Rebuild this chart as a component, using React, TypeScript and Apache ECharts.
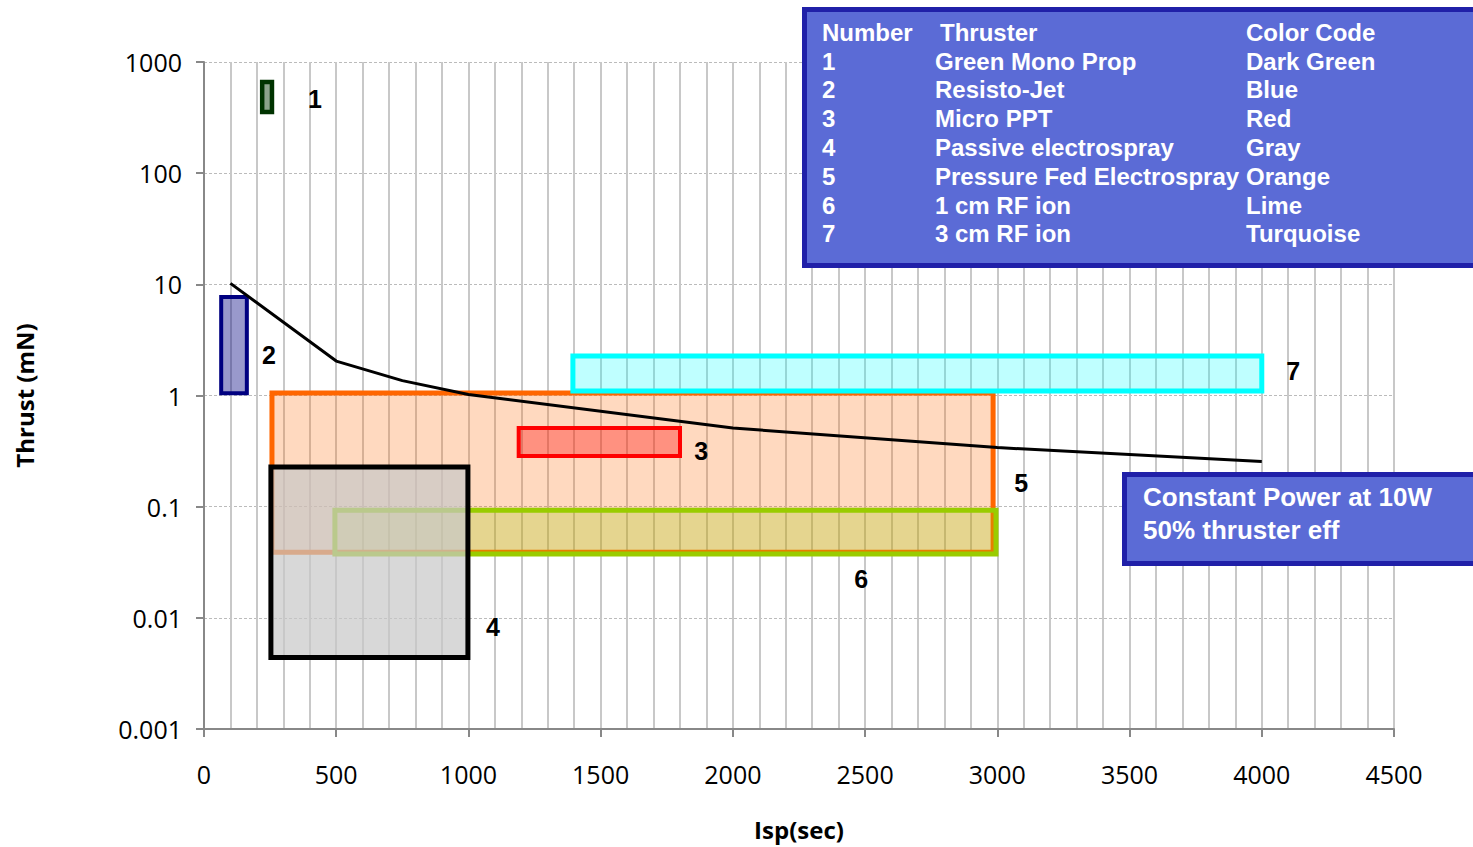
import React, { useEffect, useRef } from "react";
import * as echarts from "echarts";

// Thruster envelopes: Isp range (sec) and thrust range (mN)
const thrusterNumbers = ["1", "2", "3", "4", "5", "6", "7"];
const thrusterNames = [
  "Green Mono Prop",
  "Resisto-Jet",
  "Micro PPT",
  "Passive electrospray",
  "Pressure Fed Electrospray",
  "1 cm RF ion",
  "3 cm RF ion",
];
const colorCodes = ["Dark Green", "Blue", "Red", "Gray", "Orange", "Lime", "Turquoise"];
const ispMin = [220, 65, 1190, 253, 257, 495, 1395];
const ispMax = [257, 162, 1800, 998, 2984, 2995, 4000];
const thrustMin = [355, 1.05, 0.285, 0.0044, 0.039, 0.0375, 1.1];
const thrustMax = [660, 7.7, 0.51, 0.228, 1.055, 0.093, 2.27];

// label anchor points for the numbers (data coordinates)
const labelIsp = [420, 246, 1880, 1093, 3090, 2485, 4119];
const labelThrust = [465, 2.3, 0.32, 0.0083, 0.164, 0.0224, 1.66];

// Constant power 10 W, 50% efficiency line
const powerIsp = [100, 500, 750, 1000, 2000, 3000, 4000];
const powerThrust = [10.2, 2.04, 1.36, 1.02, 0.51, 0.34, 0.255];

const yTickLabels = ["0.001", "0.01", "0.1", "1", "10", "100", "1000"];

const strokeColors = ["#003300", "#000080", "#ff0000", "#000000", "#ff6600", "#99cc00", "#00ffff"];
const fillColors = [
  "rgba(0,51,0,0.45)",
  "rgba(0,0,128,0.4)",
  "rgba(255,0,0,0.33)",
  "rgba(200,200,200,0.7)",
  "rgba(255,102,0,0.25)",
  "rgba(153,204,0,0.25)",
  "rgba(0,255,255,0.25)",
];
const strokeWidths = [4.5, 4, 4, 5, 5, 5, 5];
const drawOrder = [4, 5, 3, 2, 1, 0, 6];

const legendHeader = ["Number", "Thruster", "Color Code"];
const noteLines = ["Constant Power at 10W", "50% thruster eff"];

export default function App() {
  const ref = useRef<HTMLDivElement>(null);

  useEffect(() => {
    if (!ref.current) return;
    const chart = echarts.init(ref.current, undefined, { renderer: "svg" });

    const rectSeries = drawOrder.map((i) => ({
      type: "custom",
      name: thrusterNames[i],
      coordinateSystem: "cartesian2d",
      encode: { x: [0, 1], y: [2, 3] },
      data: [[ispMin[i], ispMax[i], thrustMin[i], thrustMax[i]]],
      z: 3,
      renderItem: (params: any, api: any) => {
        const p0 = api.coord([api.value(0), api.value(3)]);
        const p1 = api.coord([api.value(1), api.value(2)]);
        return {
          type: "rect",
          shape: { x: p0[0], y: p0[1], width: p1[0] - p0[0], height: p1[1] - p0[1] },
          style: { fill: fillColors[i], stroke: strokeColors[i], lineWidth: strokeWidths[i] },
        };
      },
    }));

    const legendFont = "bold 24px 'Liberation Sans', Arial, sans-serif";
    const legendTexts: any[] = [];
    const colX = [822, 940, 1246];
    legendHeader.forEach((t, c) => {
      legendTexts.push({
        type: "text",
        left: colX[c],
        top: 20,
        style: { text: t, font: legendFont, fill: "#ffffff" },
      });
    });
    thrusterNumbers.forEach((n, r) => {
      const y = 49 + r * 28.8;
      legendTexts.push({ type: "text", left: 822, top: y, style: { text: n, font: legendFont, fill: "#fff" } });
      legendTexts.push({ type: "text", left: 935, top: y, style: { text: thrusterNames[r], font: legendFont, fill: "#fff" } });
      legendTexts.push({ type: "text", left: 1246, top: y, style: { text: colorCodes[r], font: legendFont, fill: "#fff" } });
    });

    const noteFont = "bold 26px 'Liberation Sans', Arial, sans-serif";

    chart.setOption({
      animation: false,
      backgroundColor: "#ffffff",
      grid: { left: 204, top: 62, width: 1190, height: 667, containLabel: false },
      xAxis: {
        type: "value",
        min: 0,
        max: 4500,
        interval: 500,
        name: "Isp(sec)",
        nameLocation: "middle",
        nameGap: 88,
        nameTextStyle: { fontFamily: "'Open Sans', sans-serif", fontWeight: "bold", fontSize: 24, color: "#000" },
        axisLine: { lineStyle: { color: "#888888", width: 2 } },
        axisTick: { show: true, length: 8, lineStyle: { color: "#888888", width: 2 } },
        axisLabel: {
          fontFamily: "'Open Sans', sans-serif",
          fontSize: 25,
          color: "#000",
          margin: 32,
          formatter: (v: number) => String(v),
        },
        splitLine: { show: true, lineStyle: { color: "#c8c8c8", width: 2 } },
        minorTick: { show: false, splitNumber: 5 },
        minorSplitLine: { show: true, lineStyle: { color: "#c8c8c8", width: 2 } },
      },
      yAxis: {
        type: "log",
        logBase: 10,
        min: 0.001,
        max: 1000,
        splitNumber: 6,
        name: "Thrust (mN)",
        nameLocation: "middle",
        nameGap: 168,
        nameRotate: 90,
        nameTextStyle: { fontFamily: "'Open Sans', sans-serif", fontWeight: "bold", fontSize: 24, color: "#000" },
        axisLine: { show: true, lineStyle: { color: "#888888", width: 2 } },
        axisTick: { show: true, length: 8, lineStyle: { color: "#888888", width: 2 } },
        axisLabel: {
          fontFamily: "'Open Sans', sans-serif",
          fontSize: 25,
          color: "#000",
          margin: 22,
          formatter: (v: number) => {
            const idx = Math.round(Math.log10(v)) + 3;
            return yTickLabels[idx] ?? String(v);
          },
        },
        splitLine: { show: true, lineStyle: { color: "#bbbbbb", width: 1, type: [3, 2] } },
      },
      series: [
        ...rectSeries,
        {
          type: "line",
          name: "Constant Power",
          data: powerIsp.map((x, k) => [x, powerThrust[k]]),
          symbol: "none",
          lineStyle: { color: "#000", width: 3 },
          z: 5,
        },
        {
          type: "scatter",
          name: "Labels",
          symbolSize: 1,
          z: 6,
          itemStyle: { opacity: 1, color: "rgba(0,0,0,0)" },
          data: labelIsp.map((x, k) => ({ value: [x, labelThrust[k]], name: thrusterNumbers[k] })),
          label: {
            show: true,
            position: "inside",
            formatter: (p: any) => p.name,
            fontFamily: "'Liberation Sans', Arial, sans-serif",
            fontWeight: "bold",
            fontSize: 25,
            color: "#000000",
            opacity: 1,
          },
        },
      ],
      graphic: [
        {
          type: "rect",
          left: 802,
          top: 7,
          shape: { width: 720, height: 256 },
          style: { fill: "#5b6bd6", stroke: "#2020a8", lineWidth: 5 },
          z: 10,
        },
        ...legendTexts.map((t) => ({ ...t, z: 11 })),
        {
          type: "rect",
          left: 1122,
          top: 472,
          shape: { width: 400, height: 89 },
          style: { fill: "#5b6bd6", stroke: "#2020a8", lineWidth: 5 },
          z: 10,
        },
        ...noteLines.map((t, k) => ({
          type: "text",
          left: 1143,
          top: 484 + k * 33,
          z: 11,
          style: { text: t, font: noteFont, fill: "#ffffff" },
        })),
      ],
    });

    return () => chart.dispose();
  }, []);

  return (
    <div
      ref={ref}
      style={{ position: "fixed", left: 0, top: 0, width: 1473, height: 847, background: "#fff" }}
    />
  );
}
